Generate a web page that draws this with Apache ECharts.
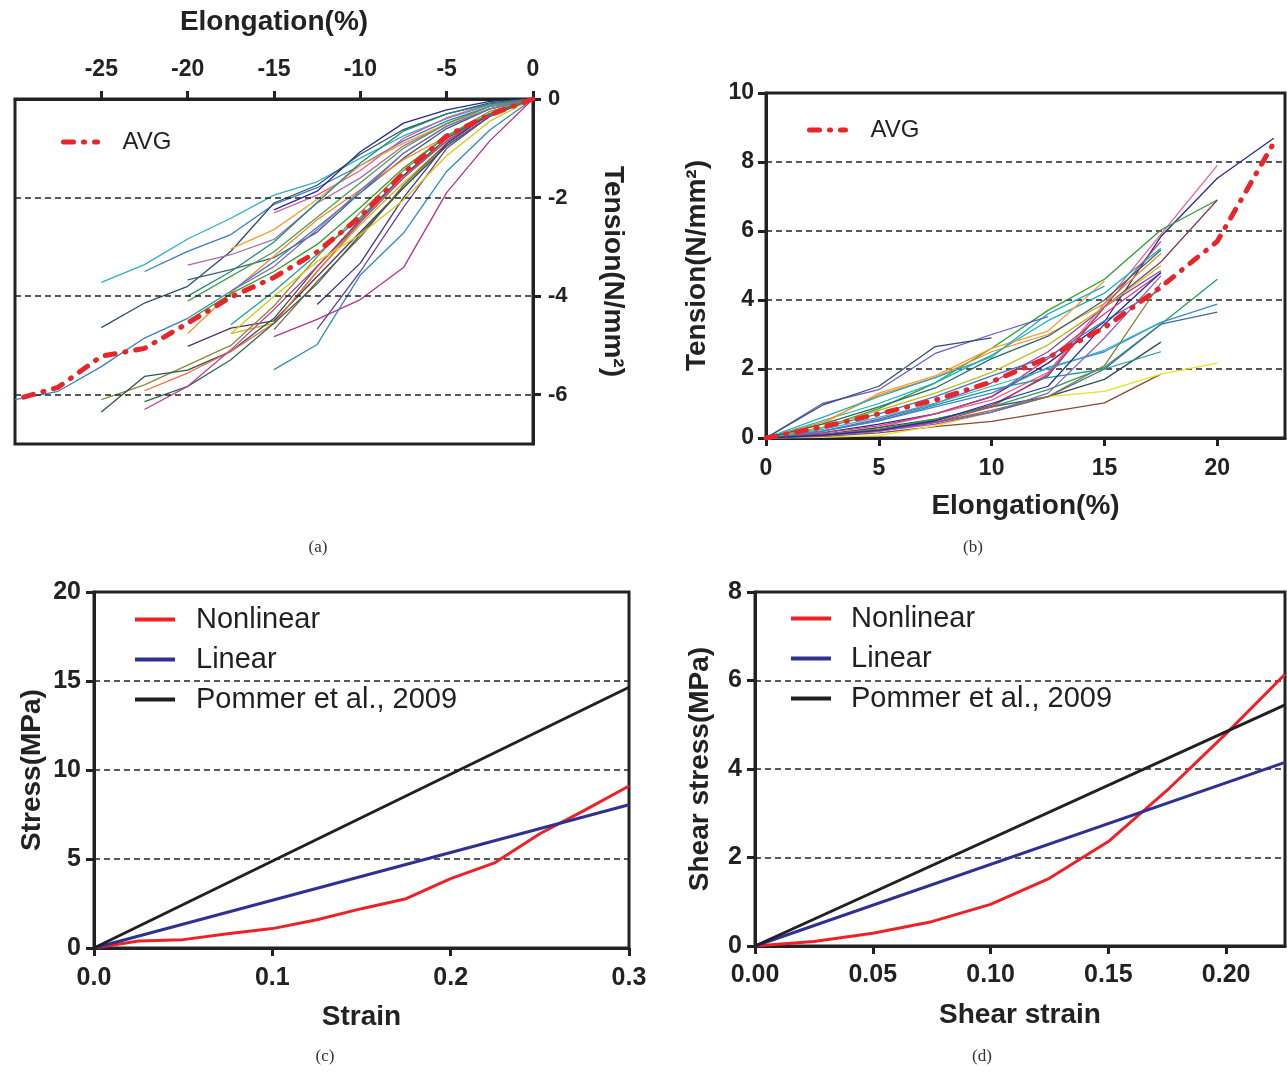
<!DOCTYPE html>
<html><head><meta charset="utf-8">
<script src="https://cdn.jsdelivr.net/npm/echarts@6/dist/echarts.min.js"></script>
<style>html,body{margin:0;padding:0;background:#fff}#chart{width:1287px;height:1072px}</style>
</head><body><div id="chart"></div>
<script>
// ---------- Panel (a): compression ----------
const elongA = [0, -2.5, -5, -7.5, -10, -12.5, -15, -17.5, -20, -22.5, -25, -27.5, -30];
const tensionA01 = [0,-0.12,-0.4,-0.75,-1.2,-1.68,-1.95,-2.42,-2.84,-3.36,-3.72];
const tensionA02 = [0,-0.15,-0.45,-0.85,-1.35,-1.8,-2.14,-2.75,-3.09,-3.5];
const tensionA03 = [0,-0.05,-0.22,-0.49,-1.07,-1.87,-2.25];
const tensionA04 = [0,-0.08,-0.3,-0.62,-1.12,-1.75,-2.11,-3.09,-3.8,-4.14,-4.64];
const tensionA05 = [0,-0.15,-0.5,-0.95,-1.6,-2.11,-2.85,-3.16,-3.37];
const tensionA06 = [0,-0.1,-0.38,-0.8,-1.45,-1.95,-2.31];
const tensionA07 = [0,-0.2,-0.6,-1.2,-1.9,-2.7,-3.22,-3.46,-3.67];
const tensionA08 = [0,-0.32,-0.76,-1.23,-1.84,-2.45,-3.19,-3.93,-4.76];
const tensionA09 = [0,-0.2,-0.5,-0.9,-1.35,-2.04,-2.65,-3.04];
const tensionA10 = [0,-0.3,-0.85,-1.55,-2.4,-3.15,-3.9,-4.58];
const tensionA11 = [0,-0.3,-0.9,-1.7,-2.55,-3.5,-4.55,-4.76];
const tensionA12 = [0,-0.35,-0.95,-1.8,-2.7,-3.6,-4.5,-4.65,-5.02];
const tensionA13 = [0,-0.3,-0.9,-1.75,-2.8,-3.7,-4.68];
const tensionA14 = [0,-0.85,-1.9,-3.42,-4.07,-4.47,-4.82];
const tensionA15 = [0,-0.25,-0.75,-1.45,-2.3,-3.2,-4.2,-5.0,-5.4,-5.8,-6.1];
const tensionA16 = [0,-0.3,-0.8,-1.55,-2.45,-3.4,-4.45,-5.12,-5.5,-5.63,-6.35];
const tensionA17 = [0,-0.3,-0.85,-1.6,-2.5,-3.5,-4.55,-5.12,-5.56,-5.92];
const tensionA18 = [0,-0.35,-0.95,-1.8,-2.75,-3.75,-4.55,-5.29,-5.83,-6.14];
const tensionA19 = [0,-0.3,-0.85,-1.6,-2.5,-3.4,-4.27,-5.09,-5.83,-6.3];
const tensionA20 = [0,-0.63,-1.47,-2.72,-3.57,-4.98,-5.49];
const tensionA21 = [0,-0.3,-0.9,-2.0,-3.33,-4.17];
const tensionA22 = [0,-0.35,-1.0,-2.2,-3.5,-4.67];
const tensionA23 = [0,-0.3,-0.75,-1.4,-2.2,-2.95,-3.5,-3.95,-4.5];
const tensionA24 = [0,-0.2,-0.55,-1.1,-1.9,-2.6,-3.3,-3.9,-4.45,-4.85,-5.43,-5.93,-6.1];
const tensionA25 = [0,-0.45,-1.15,-2.05,-2.75,-3.3,-4.0,-4.76];
const tensionA26 = [0,-0.15,-0.5,-1.0,-1.7,-2.4,-3.1,-3.6,-4.1];
const tensionA27 = [0,-0.2,-0.55,-1.1,-1.85,-2.65,-3.4,-3.9];
const tensionA28 = [0,-0.1,-0.3,-0.65,-1.3,-2.1,-2.9,-3.5,-4.0];
const avgA = [0,-0.32,-0.75,-1.5,-2.39,-3.1,-3.62,-4.02,-4.55,-5.06,-5.22,-5.85,-6.1];
const ticksAx = [-25,-20,-15,-10,-5,0];
const ticksAy = [-6,-4,-2,0];
const gridAy = [-2,-4,-6];

// ---------- Panel (b): tension ----------
const elongB = [0, 2.5, 5, 7.5, 10, 12.5, 15, 17.5, 20, 22.5];
const tensionB01 = [0,0.15,0.4,0.7,1.2,2.17,3.37,5.84,7.53,8.69];
const tensionB02 = [0,0.1,0.3,0.7,1.1,1.9,3.9,5.9,7.9];
const tensionB03 = [0,0.3,0.85,1.6,2.6,3.7,4.6,6.03,6.9];
const tensionB04 = [0,0.1,0.25,0.5,0.95,1.8,3.8,5.1,6.9];
const tensionB05 = [0,0.5,1.0,1.6,2.4,3.4,4.2,5.5];
const tensionB06 = [0,0.45,1.25,1.75,2.5,3.0,3.9,5.35];
const tensionB07 = [0,0.2,0.55,1.0,1.6,2.5,3.8,4.85];
const tensionB08 = [0,0.15,0.35,0.7,1.2,2.3,3.6,4.78];
const tensionB09 = [0,0.3,0.7,1.2,1.8,2.35,3.4,4.3];
const tensionB10 = [0,0.1,0.3,0.55,0.9,1.2,1.7,2.78];
const tensionB11 = [0,0.2,0.5,0.95,1.4,1.75,2.0,2.5];
const tensionB12 = [0,0.05,0.15,0.33,0.48,0.75,1.02,1.85];
const tensionB13 = [0,0.4,1.3,1.8,2.6,3.1,4.55];
const tensionB14 = [0,0.6,1.2,1.75,2.35,3.6,4.4];
const tensionB15 = [0,1.0,1.4,2.45,3.0,3.52];
const tensionB16 = [0,0.95,1.5,2.65,2.9];
const tensionB17 = [0,0.02,0.07,0.35,0.75,1.2,1.35,1.85,2.17];
const tensionB18 = [0,0.1,0.25,0.55,0.9,1.4,2.05,3.3,4.6];
const tensionB19 = [0,0.2,0.5,0.9,1.3,2.05,2.5,3.35,3.88];
const tensionB20 = [0,0.08,0.2,0.45,0.75,1.2,2.0,3.3,3.65];
const tensionB21 = [0,0.1,0.25,0.45,0.8,1.2,2.1,4.5];
const tensionB22 = [0,0.3,0.8,1.3,1.9,2.7,3.8,5.0];
const tensionB23 = [0,0.1,0.2,0.45,0.9,1.85,3.8,5.7];
const tensionB24 = [0,0.25,0.6,1.0,1.5,2.0,2.55,3.35];
const tensionB25 = [0,0.4,0.9,1.45,2.3,2.95,4.0,5.45];
const tensionB26 = [0,0.05,0.2,0.4,0.75,1.3,2.9,4.7];
const tensionB27 = [0,0.08,0.22,0.5,1.0,1.5,3.3,4.8];
const avgB = [0,0.32,0.7,1.1,1.63,2.33,3.2,4.38,5.7,8.55];
const ticksBx = [0,5,10,15,20];

// ---------- Panel (c): stress-strain ----------
const strainC = [0,0.025,0.05,0.075,0.1,0.125,0.15,0.175,0.2,0.225,0.25,0.275,0.3];
const nonlinearC = [0,0.39,0.47,0.8,1.09,1.59,2.21,2.77,3.9,4.8,6.42,7.73,9.1];
const lineStrainC = [0,0.3];
const linearC = [0,8.05];
const pommerC = [0,14.65];

// ---------- Panel (d): shear ----------
const strainD = [0,0.025,0.05,0.075,0.1,0.125,0.15,0.175,0.2,0.225];
const nonlinearD = [0,0.1,0.29,0.55,0.94,1.53,2.36,3.52,4.8,6.14];
const lineStrainD = [0,0.225];
const linearD = [0,4.15];
const pommerD = [0,5.45];
const ticksDx = [0,0.05,0.1,0.15,0.2];

// ---------- styles ----------
const colorsA = ['#2ab0c0','#3c78c8','#262b8c','#2f5068','#a86ca8','#e05a9c','#3e5f73','#f08a24','#f5a030','#1aa39a','#b8c020','#5a2d6e','#8c5a3c','#b8308c','#8c8a3a','#2f5450','#ec6a3a','#2e6b4e','#c0409a','#2e8cc0','#3a3a8a','#6b3fa0','#2ca02c','#3a80c0','#d8c810','#4aa050','#9467bd','#1b8e77'];
const colorsB = ['#262b8c','#e8609c','#2ca02c','#7b3f61','#17b0c0','#f08a24','#8e44ad','#d03a80','#3c78c8','#2f4f4f','#1a9a9a','#8c4a2f','#f5a030','#27a9c4','#6a5acd','#2f4f6f','#e8e020','#22a055','#3a88d0','#3a6fa0','#8a7a3a','#bcbd22','#c83a6a','#2fb5c5','#2a6a6a','#9060c0','#1f2f9f'];
const setA = [tensionA01,tensionA02,tensionA03,tensionA04,tensionA05,tensionA06,tensionA07,tensionA08,tensionA09,tensionA10,tensionA11,tensionA12,tensionA13,tensionA14,tensionA15,tensionA16,tensionA17,tensionA18,tensionA19,tensionA20,tensionA21,tensionA22,tensionA23,tensionA24,tensionA25,tensionA26,tensionA27,tensionA28];
const setB = [tensionB01,tensionB02,tensionB03,tensionB04,tensionB05,tensionB06,tensionB07,tensionB08,tensionB09,tensionB10,tensionB11,tensionB12,tensionB13,tensionB14,tensionB15,tensionB16,tensionB17,tensionB18,tensionB19,tensionB20,tensionB21,tensionB22,tensionB23,tensionB24,tensionB25,tensionB26,tensionB27];

const FONT = '"Liberation Sans", Arial, Helvetica, sans-serif';
const INK = '#222';
const RED = '#e8262a';
const pair = (xs, ys) => ys.map((v, i) => [xs[i], v]);

function tickStyle(custom) {
  const t = { show: true, inside: false, length: 8, lineStyle: { color: INK, width: 3 } };
  if (custom) t.customValues = custom;
  return t;
}
function labelStyle(size, margin, extra) {
  return Object.assign({ color: INK, fontFamily: FONT, fontWeight: 'bold', fontSize: size, margin: margin }, extra || {});
}
function axisBase(extra) {
  return Object.assign({
    type: 'value',
    axisLine: { show: true, onZero: false, lineStyle: { color: INK, width: 3 } },
    axisTick: tickStyle(),
    splitLine: { show: false },
    nameLocation: 'middle',
    nameTextStyle: { color: INK, fontFamily: FONT, fontWeight: 'bold', fontSize: 28 }
  }, extra);
}
const dashSplit = { show: true, lineStyle: { color: INK, width: 1.5, type: [6, 4] } };

const series = [];
series.push({
  type: 'line', xAxisIndex: 0, yAxisIndex: 0, name: 'gridA', data: [[0, 0]],
  showSymbol: false, lineStyle: { width: 0 }, silent: true, z: 1,
  markLine: { silent: true, symbol: ['none', 'none'], label: { show: false },
    lineStyle: { color: INK, width: 1.5, type: [6, 4] },
    data: gridAy.map(v => ({ yAxis: v })) }
});
setA.forEach((arr, i) => series.push({
  type: 'line', name: 'a' + (i + 1), xAxisIndex: 0, yAxisIndex: 0,
  data: pair(elongA, arr), symbol: 'none', z: 2,
  lineStyle: { color: colorsA[i], width: 1.3 }, itemStyle: { color: colorsA[i] }
}));
const avgStyle = { color: RED, width: 5, type: [10, 10, 1, 10], cap: 'round' };
series.push({ type: 'line', name: 'AVG', xAxisIndex: 0, yAxisIndex: 0, data: pair(elongA, avgA),
  symbol: 'none', z: 5, lineStyle: avgStyle, itemStyle: { color: RED } });
setB.forEach((arr, i) => series.push({
  type: 'line', name: 'b' + (i + 1), xAxisIndex: 1, yAxisIndex: 1,
  data: pair(elongB, arr), symbol: 'none', z: 2,
  lineStyle: { color: colorsB[i], width: 1.3 }, itemStyle: { color: colorsB[i] }
}));
series.push({ type: 'line', name: 'AVG', xAxisIndex: 1, yAxisIndex: 1, data: pair(elongB, avgB),
  symbol: 'none', z: 5, lineStyle: avgStyle, itemStyle: { color: RED } });

const lineC = { red: '#ec2227', blue: '#2e3192', black: '#231f20' };
[[2, strainC, nonlinearC, 'Nonlinear', lineC.red], [2, lineStrainC, linearC, 'Linear', lineC.blue], [2, lineStrainC, pommerC, 'Pommer et al., 2009', lineC.black],
 [3, strainD, nonlinearD, 'Nonlinear', lineC.red], [3, lineStrainD, linearD, 'Linear', lineC.blue], [3, lineStrainD, pommerD, 'Pommer et al., 2009', lineC.black]]
.forEach(([k, xs, ys, nm, col]) => series.push({
  type: 'line', name: nm, xAxisIndex: k, yAxisIndex: k, data: pair(xs, ys), symbol: 'none', z: 3,
  lineStyle: { color: col, width: 3 }, itemStyle: { color: col }
}));

const gridBox = { show: true, borderColor: INK, borderWidth: 3, backgroundColor: 'transparent', outerBoundsMode: 'none' };
const legendText = (size, pad) => ({ color: '#231f20', fontFamily: FONT, fontSize: size, padding: [0, 0, 0, pad] });
const hiddenSym = { opacity: 0, color: 'transparent', borderWidth: 0 };

const option = {
  animation: false,
  backgroundColor: '#fff',
  grid: [
    Object.assign({ left: 15, top: 99, width: 518, height: 345 }, gridBox),
    Object.assign({ left: 766, top: 93, width: 519, height: 345 }, gridBox),
    Object.assign({ left: 94, top: 592, width: 535, height: 356 }, gridBox),
    Object.assign({ left: 755, top: 592, width: 530, height: 354 }, gridBox)
  ],
  xAxis: [
    axisBase({ gridIndex: 0, position: 'top', min: -30, max: 0, interval: 5,
      axisTick: tickStyle(ticksAx), axisLabel: labelStyle(23, 18, { customValues: ticksAx }),
      name: 'Elongation(%)', nameGap: 63 }),
    axisBase({ gridIndex: 1, position: 'bottom', min: 0, max: 23, interval: 5,
      axisTick: tickStyle(ticksBx), axisLabel: labelStyle(23, 19, { customValues: ticksBx }),
      name: 'Elongation(%)', nameGap: 54 }),
    axisBase({ gridIndex: 2, position: 'bottom', min: 0, max: 0.3, interval: 0.1,
      axisLabel: labelStyle(25, 18, { formatter: v => v.toFixed(1) }),
      name: 'Strain', nameGap: 55 }),
    axisBase({ gridIndex: 3, position: 'bottom', min: 0, max: 0.225, interval: 0.05,
      axisTick: tickStyle(ticksDx), axisLabel: labelStyle(25, 17, { formatter: v => v.toFixed(2), customValues: ticksDx }),
      name: 'Shear strain', nameGap: 55 })
  ],
  yAxis: [
    axisBase({ gridIndex: 0, position: 'right', min: -7, max: 0,
      axisTick: tickStyle(ticksAy), axisLabel: labelStyle(22, 15, { customValues: ticksAy }),
      name: 'Tension(N/mm²)', nameRotate: -90, nameGap: 66 }),
    axisBase({ gridIndex: 1, position: 'left', min: 0, max: 10, interval: 2, splitLine: dashSplit,
      axisLabel: labelStyle(23, 12), name: 'Tension(N/mm²)', nameGap: 55 }),
    axisBase({ gridIndex: 2, position: 'left', min: 0, max: 20, interval: 5, splitLine: dashSplit,
      axisLabel: labelStyle(25, 13), name: 'Stress(MPa)', nameGap: 48 }),
    axisBase({ gridIndex: 3, position: 'left', min: 0, max: 8, interval: 2, splitLine: dashSplit,
      axisLabel: labelStyle(25, 13), name: 'Shear stress(MPa)', nameGap: 41 })
  ],
  legend: [
    { left: 56, top: 125, data: ['AVG'], itemWidth: 34, itemHeight: 14, lineStyle: { width: 5 },
      itemStyle: hiddenSym, textStyle: legendText(24, 20), selectedMode: false },
    { left: 802, top: 113, data: ['AVG'], itemWidth: 36, itemHeight: 14, lineStyle: { width: 5 },
      itemStyle: hiddenSym, textStyle: legendText(24, 20), selectedMode: false },
    { orient: 'vertical', left: 128, top: 600, itemGap: 11, itemWidth: 40, itemHeight: 14,
      data: ['Nonlinear', 'Linear', 'Pommer et al., 2009'], lineStyle: { width: 4 },
      itemStyle: hiddenSym, textStyle: legendText(29, 16), selectedMode: false },
    { orient: 'vertical', left: 784, top: 599, itemGap: 11, itemWidth: 40, itemHeight: 14,
      data: ['Nonlinear', 'Linear', 'Pommer et al., 2009'], lineStyle: { width: 4 },
      itemStyle: hiddenSym, textStyle: legendText(29, 15), selectedMode: false }
  ],
  graphic: [
    ['(a)', 318, 548], ['(b)', 973, 548], ['(c)', 325, 1057], ['(d)', 982, 1057]
  ].map(([t, x, y]) => ({ type: 'text', x: x, y: y, silent: true,
    style: { text: t, align: 'center', verticalAlign: 'middle', font: '17px "Liberation Serif", "Times New Roman", serif', fill: '#333' } })),
  series: series
};

const chart = echarts.init(document.getElementById('chart'), null, { renderer: 'canvas' });
chart.setOption(option);
</script></body></html>
